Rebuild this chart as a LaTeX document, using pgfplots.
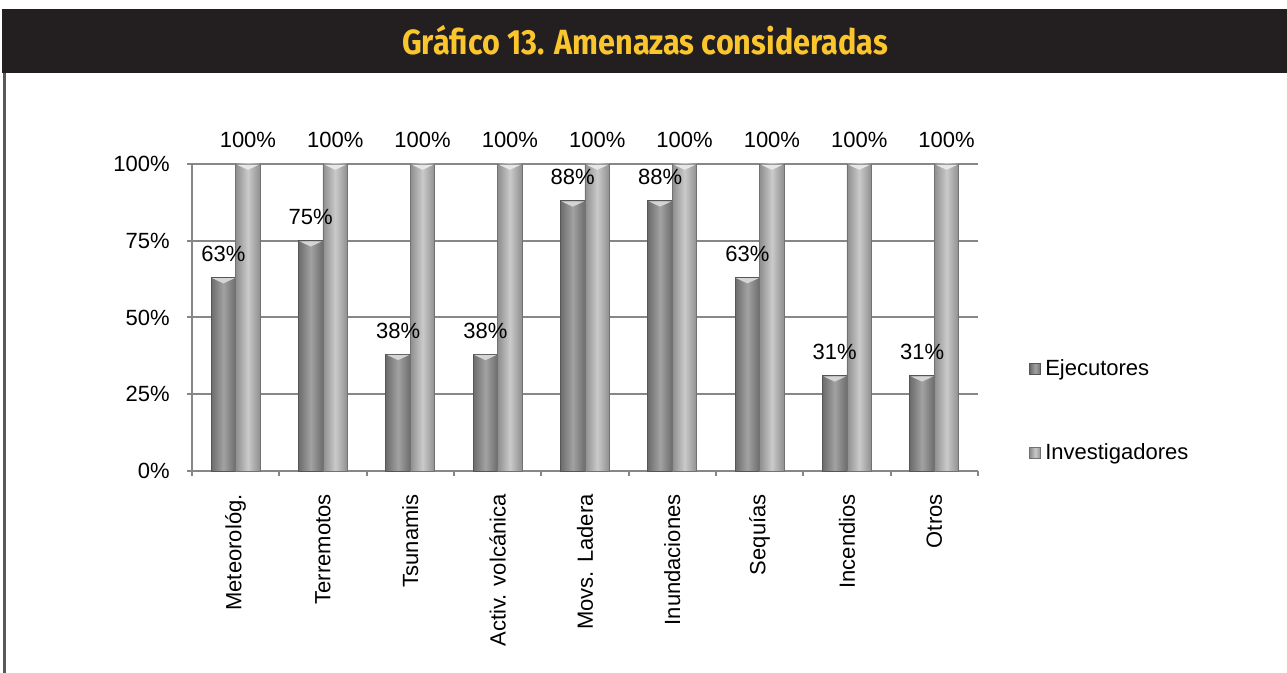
\documentclass[border=0pt]{standalone}
\usepackage{fontspec}
\setmainfont{Liberation Sans}
\newfontfamily\titlefont[FakeStretch=0.875]{Fira Sans}
\usepackage{pgfplots}
\pgfplotsset{compat=1.18}
\definecolor{titlebg}{HTML}{231F20}
\definecolor{titleyel}{HTML}{FBC52E}
\definecolor{gridgray}{HTML}{878787}
\definecolor{ejeEdge}{HTML}{6C6C6C}
\definecolor{ejeMid}{HTML}{A2A2A2}
\definecolor{invEdge}{HTML}{8E8E8E}
\definecolor{invMid}{HTML}{CACACA}
\pgfdeclareplotmark{cap}{\pgfpathmoveto{\pgfqpoint{-5.6pt}{0pt}}\pgfpathlineto{\pgfqpoint{5.6pt}{0pt}}\pgfpathlineto{\pgfqpoint{0pt}{-2.6pt}}\pgfpathclose\pgfusepath{fill}}
\pgfplotsset{
  eje/.style={draw=ejeEdge!80!black, line width=0.4pt, left color=ejeEdge, right color=ejeEdge, middle color=ejeMid, bar shift=-6.125pt,
    mark=cap, mark options={draw=none, fill=ejeMid!45!white, xshift=-6.125pt, yshift=-0.3pt},
    every node near coord/.append style={xshift=6.125pt, yshift=0.3pt}},
  inv/.style={draw=invEdge!80!black, line width=0.4pt, left color=invEdge, right color=invEdge, middle color=invMid, bar shift=6.125pt,
    mark=cap, mark options={draw=none, fill=invMid!45!white, xshift=6.125pt, yshift=-0.3pt},
    every node near coord/.append style={xshift=-6.125pt, yshift=0.3pt}},
}
\begin{document}
\begin{tikzpicture}
\path[use as bounding box] (0,0) rectangle (643.5pt,336.5pt);
\fill[white] (0,0) rectangle (643.5pt,336.5pt);
\fill[titlebg] (1pt,300pt) rectangle (643.5pt,332pt);
\node[text=titleyel, font=\titlefont\bfseries\fontsize{17.5}{20}\selectfont] at (322.5pt,316.5pt) {Gráfico 13. Amenazas consideradas};
\draw[gray!70!black, line width=1.5pt] (2.25pt,0) -- (2.25pt,300pt);
\begin{axis}[
  at={(96pt,101pt)}, anchor=south west,
  width=393pt, height=153.5pt, scale only axis,
  ybar=0pt, bar width=12.25pt,
  xmin=-0.5, xmax=8.5, ymin=0, ymax=100,
  axis lines*=left,
  axis line style={draw=gridgray, line width=1pt},
  ymajorgrids, major grid style={draw=gridgray, line width=1pt},
  xtick={0,...,8},
  xticklabels={Meteorológ., Terremotos, Tsunamis, Activ. volcánica, Movs. Ladera, Inundaciones, Sequías, Incendios, Otros},
  minor xtick={-0.5,0.5,...,8.5},
  major x tick style={draw=none},
  minor x tick style={draw=gridgray, line width=1pt},
  ytick={0,25,50,75,100},
  yticklabels={0\%,25\%,50\%,75\%,100\%},
  y tick style={draw=gridgray, line width=1pt},
  tick align=outside, major tick length=2.5pt, minor tick length=2.5pt,
  tick label style={font=\fontsize{11}{13}\selectfont},
  xticklabel style={rotate=90, anchor=east, inner sep=0pt},
  xticklabel shift=9pt,
  yticklabel style={anchor=east, inner sep=0pt},
  yticklabel shift=8.5pt,
  nodes near coords={\pgfmathprintnumber[assume math mode=true]{\pgfplotspointmeta}\%},
  every node near coord/.append style={font=\fontsize{11}{13}\selectfont, anchor=base, inner sep=0pt, yshift=8pt, text=black},
  legend cell align=left,
  legend image code/.code={\draw[#1] (0pt,-2.75pt) rectangle (5.5pt,2.75pt);},
  legend style={at={(1.065,0.195)}, anchor=west, draw=none, fill=none, inner sep=0pt,
    row sep=28.5pt, font=\fontsize{11}{13}\selectfont},
  clip=false,
]
\addplot[eje] coordinates {(0,63)};
\addplot[inv] coordinates {(0,100)};
\addplot[eje, forget plot] coordinates {(1,75)};
\addplot[inv, forget plot] coordinates {(1,100)};
\addplot[eje, forget plot] coordinates {(2,38)};
\addplot[inv, forget plot] coordinates {(2,100)};
\addplot[eje, forget plot] coordinates {(3,38)};
\addplot[inv, forget plot] coordinates {(3,100)};
\addplot[eje, forget plot] coordinates {(4,88)};
\addplot[inv, forget plot] coordinates {(4,100)};
\addplot[eje, forget plot] coordinates {(5,88)};
\addplot[inv, forget plot] coordinates {(5,100)};
\addplot[eje, forget plot] coordinates {(6,63)};
\addplot[inv, forget plot] coordinates {(6,100)};
\addplot[eje, forget plot] coordinates {(7,31)};
\addplot[inv, forget plot] coordinates {(7,100)};
\addplot[eje, forget plot] coordinates {(8,31)};
\addplot[inv, forget plot] coordinates {(8,100)};
\legend{Ejecutores, Investigadores}
\end{axis}
\end{tikzpicture}
\end{document}
